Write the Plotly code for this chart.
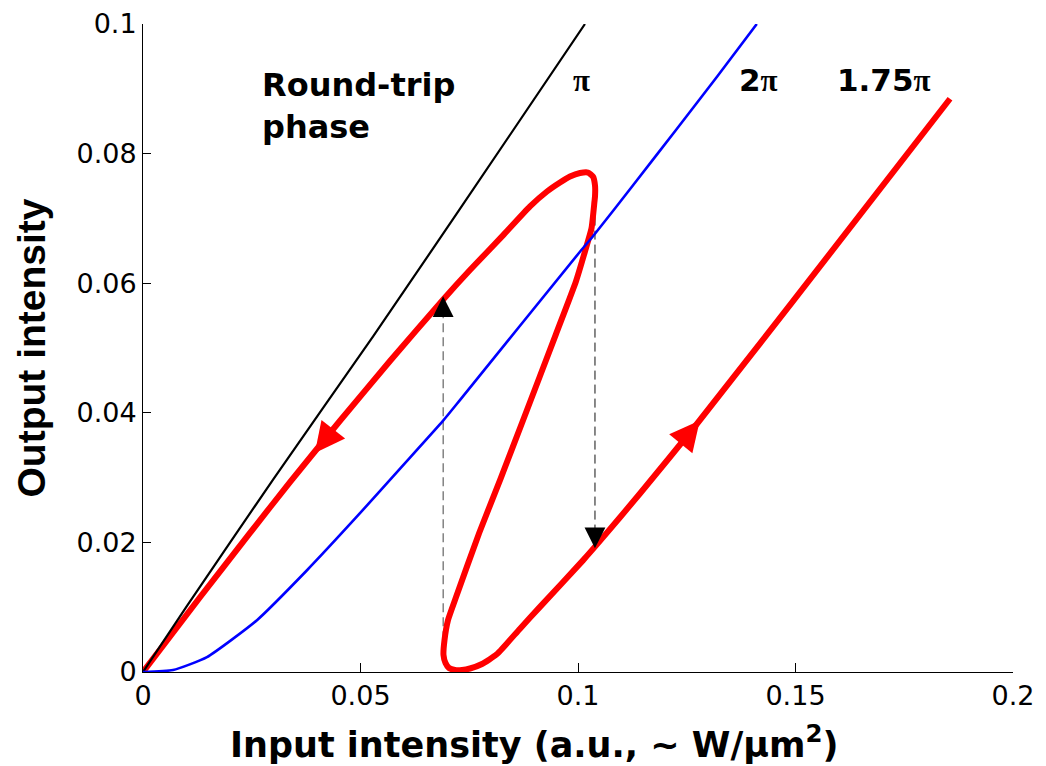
import plotly.graph_objects as go

# ---- data ----
pi_x = [0, 0.0100, 0.0299, 0.0529, 0.0729, 0.1016]
pi_y = [0, 0.0101, 0.0297, 0.0518, 0.0715, 0.1]

two_pi_x = [0, 0.0069, 0.0147, 0.0262, 0.0377, 0.0492, 0.0591, 0.0690, 0.0729, 0.1005, 0.1034,
            0.1131, 0.1227, 0.1320, 0.1411]
two_pi_y = [0, 0.0003, 0.0023, 0.0080, 0.0157, 0.0240, 0.0314, 0.0388, 0.0420, 0.0649, 0.0672,
            0.0755, 0.0838, 0.0919, 0.1]

r175_x = [0, 0.01310, 0.02460, 0.03379, 0.04529, 0.05678, 0.06897, 0.07517, 0.08276, 0.08897,
          0.09287, 0.09586, 0.09816, 0.10046, 0.10230, 0.10345, 0.10391, 0.10391, 0.10379,
          0.10310, 0.10161, 0.09954, 0.09494, 0.08759, 0.08230, 0.07724, 0.07195, 0.07011,
          0.06931, 0.06908, 0.06954, 0.07034, 0.07172, 0.07333, 0.07517, 0.07793, 0.08138,
          0.08667, 0.09126, 0.10115, 0.10506, 0.11425, 0.12736, 0.14943, 0.18552]
r175_y = [0, 0.01154, 0.02146, 0.02931, 0.03877, 0.04800, 0.05746, 0.06203, 0.06738, 0.07185,
          0.07415, 0.07554, 0.07646, 0.07700, 0.07708, 0.07646, 0.07508, 0.07338, 0.07262,
          0.06846, 0.06492, 0.06031, 0.05215, 0.03923, 0.03000, 0.02138, 0.01154, 0.00800,
          0.00492, 0.00262, 0.00138, 0.00062, 0.00031, 0.00031, 0.00054, 0.00123, 0.00277,
          0.00669, 0.01005, 0.01723, 0.02023, 0.02754, 0.03831, 0.05723, 0.08846]

# jumps (dashed vertical transitions), last point = arrow tip
jump_up_x = [0.0690, 0.0690]
jump_up_y = [0.0049, 0.0580]
jump_down_x = [0.1039, 0.1039]
jump_down_y = [0.0746, 0.0191]

# direction arrows on the red curve: (head, tail on the curve)
red_arrow_heads = [(0.0395, 0.0338), (0.1280, 0.0388)]
red_arrow_tails = [(0.04529, 0.03877), (0.11425, 0.02754)]

x_ticks = [0, 0.05, 0.1, 0.15, 0.2]
x_ticktext = ["0", "0.05", "0.1", "0.15", "0.2"]
y_ticks = [0, 0.02, 0.04, 0.06, 0.08, 0.1]
y_ticktext = ["0", "0.02", "0.04", "0.06", "0.08", "0.1"]

labels = ["π", "2π", "1.75π"]
label_x = [0.1009, 0.1414, 0.1703]
label_y = [0.0913, 0.0913, 0.0913]

fig = go.Figure()

fig.add_trace(go.Scatter(x=jump_up_x, y=jump_up_y, mode="lines",
                         line=dict(color="#444444", width=1, dash="9px,5px"), hoverinfo="skip"))
fig.add_trace(go.Scatter(x=jump_down_x, y=jump_down_y, mode="lines",
                         line=dict(color="#111111", width=1, dash="9px,5px"), hoverinfo="skip"))
fig.add_trace(go.Scatter(x=r175_x, y=r175_y, mode="lines",
                         line=dict(color="#ff0000", width=6, shape="spline", smoothing=0.5)))
fig.add_trace(go.Scatter(x=pi_x, y=pi_y, mode="lines",
                         line=dict(color="black", width=2.2, shape="spline", smoothing=0.5)))
fig.add_trace(go.Scatter(x=two_pi_x, y=two_pi_y, mode="lines",
                         line=dict(color="#0000ff", width=2.6, shape="spline", smoothing=0.5)))

anns = []
# black jump arrowheads (tail hidden along the dashed line)
anns.append(dict(x=jump_up_x[-1], y=jump_up_y[-1], xref="x", yref="y", ax=0, ay=16,
                 showarrow=True, arrowhead=2, arrowsize=3.2, arrowwidth=1.3,
                 arrowcolor="black", text=" "))
anns.append(dict(x=jump_down_x[-1], y=jump_down_y[-1], xref="x", yref="y", ax=0, ay=-16,
                 showarrow=True, arrowhead=2, arrowsize=3.2, arrowwidth=1.3,
                 arrowcolor="black", text=" "))
for (hx, hy), (tx, ty) in zip(red_arrow_heads, red_arrow_tails):
    anns.append(dict(x=hx, y=hy, ax=tx, ay=ty, xref="x", yref="y", axref="x", ayref="y",
                     showarrow=True, arrowhead=2, arrowsize=2.4, arrowwidth=2.5,
                     arrowcolor="#ff0000", text=" "))

for t, lx, ly in zip(labels, label_x, label_y):
    txt = t.replace("π", '<span style="font-family:Liberation Serif">π</span>')
    anns.append(dict(x=lx, y=ly, xref="x", yref="y", text="<b>" + txt + "</b>",
                     showarrow=False, font=dict(family="DejaVu Sans", size=31, color="black"),
                     xanchor="center", yanchor="middle"))

anns.append(dict(x=0.0269, y=0.0874, xref="x", yref="y", text="<b>Round-trip<br>phase</b>",
                 showarrow=False, align="left", xanchor="left", yanchor="middle",
                 font=dict(family="DejaVu Sans", size=32, color="black")))

# x-axis title (placed as in the reference, slightly left of the plot centre)
anns.append(dict(x=0.449, y=-0.108, xref="paper", yref="paper",
                 text="<b>Input intensity (a.u., ~ W/μm<sup>2</sup>)</b>",
                 showarrow=False, xanchor="center", yanchor="middle",
                 font=dict(family="DejaVu Sans", size=35, color="black")))

fig.update_layout(
    width=1038, height=758,
    margin=dict(l=135, r=33, t=16, b=94, autoexpand=False),
    paper_bgcolor="white", plot_bgcolor="white",
    showlegend=False,
    annotations=anns,
    xaxis=dict(range=[0, 0.2], tickvals=x_ticks, ticktext=x_ticktext, automargin=False,
               ticks="inside", ticklen=9, tickwidth=1, tickcolor="black",
               ticklabeloverflow="allow",
               showline=True, linecolor="black", linewidth=1, mirror=False,
               showgrid=False, zeroline=False,
               tickfont=dict(family="DejaVu Sans", size=27, color="black")),
    yaxis=dict(range=[0, 0.1], tickvals=y_ticks, ticktext=y_ticktext, automargin=False,
               title=dict(text="<b>Output intensity</b>", standoff=18,
                          font=dict(family="Liberation Sans", size=39, color="black")),
               ticks="inside", ticklen=8, tickwidth=1, tickcolor="black",
               ticklabeloverflow="allow",
               showline=True, linecolor="black", linewidth=1, mirror=False,
               showgrid=False, zeroline=False,
               tickfont=dict(family="DejaVu Sans", size=27, color="black")),
)

fig.write_html("out.html")
